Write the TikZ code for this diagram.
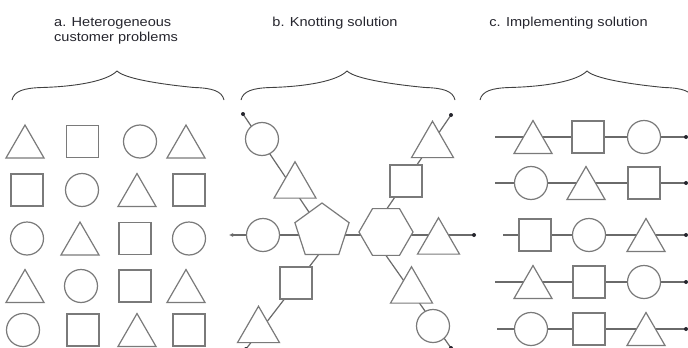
\documentclass[tikz,border=0pt]{standalone}
\usepackage{fontspec}
\newfontfamily\labfont[FakeStretch=1.12]{Liberation Sans}
\usetikzlibrary{shapes.geometric,arrows.meta,backgrounds}
\definecolor{shp}{HTML}{7A7A7A}
\definecolor{lne}{HTML}{6A6A6A}
\definecolor{txt}{HTML}{26262E}
\newcommand{\mybrace}[3]{%
  \draw[brc] (#1,100) .. controls (#1+2,91) and (#1+12,88) .. (#1+30,87.5)
    .. controls (#2-40,86.5) and (#2-10,81) .. (#2,71)
    .. controls (#2+10,81) and (#3-40,86.5) .. (#3-30,87.5)
    .. controls (#3-12,88) and (#3-2,91) .. (#3,100);}
\begin{document}
\begin{tikzpicture}[x=1pt,y=-1pt,
  base/.style={draw=shp,line width=1.2pt,fill=white,inner sep=0pt},
  sqr/.style={base,rectangle,minimum size=32pt},
  crc/.style={base,circle,minimum size=33pt},
  tria/.style={base,regular polygon,regular polygon sides=3,minimum size=43.9pt},
  trib/.style={base,regular polygon,regular polygon sides=3,minimum size=48.5pt},
  pent/.style={base,regular polygon,regular polygon sides=5,minimum size=57pt},
  hexa/.style={base,regular polygon,regular polygon sides=6,minimum size=54pt},
  conn/.style={draw=lne,line width=1.2pt},
  enddot/.style={circle,fill=txt,inner sep=0pt,minimum size=4pt},
  lab/.style={text=txt,font=\labfont\fontsize{13}{16}\selectfont,inner sep=0pt},
  brc/.style={draw=black!75,line width=0.9pt}
]
\clip (0,0) rectangle (688,348);

% labels
\node[lab,anchor=base west] (la1) at (54,26.5) {a. Heterogeneous};
\node[lab,anchor=base west] (la2) at (54,41.5) {customer problems};
\node[lab,anchor=base] (lb) at (335,26) {b. Knotting solution};
\node[lab,anchor=base] (lc) at (568.5,26) {c. Implementing solution};

% braces
\mybrace{12}{117}{224}
\mybrace{241}{347}{455}
\mybrace{480}{587}{694}

% panel a
\node[tria] (a11) at (25,147) {};
\node[sqr]  (a12) at (82.5,141.5) {};
\node[crc]  (a13) at (140,141.5) {};
\node[tria] (a14) at (186,147) {};
\node[sqr]  (a21) at (27,190) {};
\node[crc]  (a22) at (82,190) {};
\node[tria] (a23) at (137,195.5) {};
\node[sqr]  (a24) at (189,190) {};
\node[crc]  (a31) at (27,238.5) {};
\node[tria] (a32) at (80,244) {};
\node[sqr]  (a33) at (135,238.5) {};
\node[crc]  (a34) at (189,238.5) {};
\node[tria] (a41) at (25,291.5) {};
\node[crc]  (a42) at (81,286) {};
\node[sqr]  (a43) at (135,286) {};
\node[tria] (a44) at (186,291.5) {};
\node[crc]  (a51) at (23,330) {};
\node[sqr]  (a52) at (83,330) {};
\node[tria] (a53) at (137,335.5) {};
\node[sqr]  (a54) at (189,330) {};

% panel b
\node[pent] (pn) at (322,231.5) {};
\node[hexa] (hx) at (386,232) {};
\node[crc]  (bw) at (263,235) {};
\node[trib] (be) at (438.5,242) {};
\node[crc]  (bul1) at (262,139) {};
\node[trib] (bul2) at (295,186) {};
\node[sqr]  (bll1) at (296,283) {};
\node[trib] (bll2) at (258.5,330.5) {};
\node[sqr]  (bur1) at (406,181) {};
\node[trib] (bur2) at (432.5,145.5) {};
\node[trib] (blr1) at (411.5,291) {};
\node[crc]  (blr2) at (433,326) {};
\coordinate (bL) at (229,235);
\coordinate (bR) at (474,235);
\coordinate (ulE) at (243,114);
\coordinate (llS) at (336,232);
\coordinate (llE) at (246,349);
\coordinate (urS) at (371,232);
\coordinate (urE) at (451,115);
\coordinate (lrS) at (369.5,232);
\coordinate (lrE) at (451,348);

% panel c
\node[tria] (c11) at (533,142.5) {};
\node[sqr]  (c12) at (588,137) {};
\node[crc]  (c13) at (644,137) {};
\node[crc]  (c21) at (531,183) {};
\node[tria] (c22) at (586,188.5) {};
\node[sqr]  (c23) at (644,183) {};
\node[sqr]  (c31) at (535,235) {};
\node[crc]  (c32) at (589,235) {};
\node[tria] (c33) at (646,240.5) {};
\node[tria] (c41) at (533,287.5) {};
\node[sqr]  (c42) at (589,282) {};
\node[crc]  (c43) at (644,282) {};
\node[crc]  (c51) at (531,329) {};
\node[sqr]  (c52) at (589,329) {};
\node[tria] (c53) at (646,334.5) {};
\coordinate (r1s) at (495,137); \coordinate (r1e) at (686,137);
\coordinate (r2s) at (495,183); \coordinate (r2e) at (686,183);
\coordinate (r3s) at (503,235); \coordinate (r3e) at (686,235);
\coordinate (r4s) at (495,282); \coordinate (r4e) at (686,282);
\coordinate (r5s) at (497,329); \coordinate (r5e) at (686,329);

\begin{pgfonlayer}{background}
  \fill[white] (0,0) rectangle (688,348);
  \draw[conn,{Latex[length=4pt,width=4pt]}-] (bL) -- (bR);
  \draw[conn] (ulE) -- (pn.center);
  \draw[conn] (llS) -- (llE);
  \draw[conn] (urS) -- (urE);
  \draw[conn] (lrS) -- (lrE);
  \foreach \r in {1,...,5} {\draw[conn] (r\r s) -- (r\r e);}
\end{pgfonlayer}

\foreach \p in {bR,ulE,llE,urE,lrE,r1e,r2e,r3e,r4e,r5e}
  \node[enddot] at (\p) {};
\end{tikzpicture}
\end{document}
